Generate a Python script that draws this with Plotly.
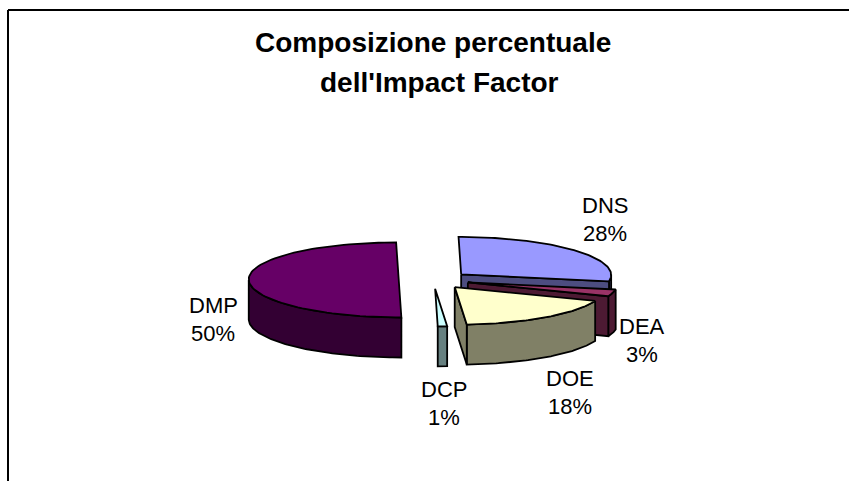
import numpy as np
import plotly.graph_objects as go

# Data, clockwise from 12 o'clock
categories = ["DNS", "DEA", "DOE", "DCP", "DMP"]
percent = [28, 3, 18, 1, 50]
top_colors = ["#9999FF", "#993366", "#FFFFCC", "#CCFFFF", "#660066"]
side_colors = ["#4D4D80", "#4D1A33", "#808066", "#668080", "#330033"]
title_lines = ["Composizione percentuale", "dell'Impact Factor"]

# Projection of the 3-D exploded pie
CX, CY, RX, RY, DEPTH = 434, 280, 150, 37.5, 40
PULL, SHEAR = 0.235, 0.07
LINE = dict(color="black", width=1.8)

label_xy = {"DNS": (605, 205), "DEA": (642, 326), "DOE": (570, 378),
            "DCP": (444, 389), "DMP": (213, 305)}
LABEL_GAP = 28


def project(theta, r, ox, oy, drop=0.0):
    dx = r * RX * np.sin(theta)
    dy = -r * RY * np.cos(theta)
    return ox + dx + SHEAR * dy, oy + dy + drop


def poly(fig, xs, ys, fill):
    fig.add_trace(go.Scatter(x=list(xs) + [xs[0]], y=list(ys) + [ys[0]], mode="lines",
                             fill="toself", fillcolor=fill, line=LINE,
                             hoverinfo="skip", showlegend=False))


fig = go.Figure()
edges = np.cumsum([0] + percent) / sum(percent) * 2 * np.pi

for i, name in enumerate(categories):
    a, b = edges[i], edges[i + 1]
    mid = (a + b) / 2
    ox = CX + PULL * RX * np.sin(mid)
    oy = CY - PULL * RY * np.cos(mid)
    arc = np.linspace(a, b, 80)

    # outer rim, front-facing part only
    lo, hi = max(a, np.pi / 2), min(b, 3 * np.pi / 2)
    if hi > lo:
        t = np.linspace(lo, hi, 80)
        x1, y1 = project(t, 1, ox, oy)
        x2, y2 = project(t[::-1], 1, ox, oy, DEPTH)
        poly(fig, np.r_[x1, x2], np.r_[y1, y2], side_colors[i])

    # radial cut faces that look towards the viewer
    for ang, visible in ((b, np.sin(b) > 1e-6), (a, np.sin(a) < -1e-6)):
        if visible:
            ex, ey = project(ang, 1, ox, oy)
            poly(fig, [ox, ex, ex, ox], [oy, ey, ey + DEPTH, oy + DEPTH], side_colors[i])

    # top face
    x, y = project(arc, 1, ox, oy)
    poly(fig, np.r_[ox, x], np.r_[oy, y], top_colors[i])

annotations = []
for name, pct in zip(categories, percent):
    lx, ly = label_xy[name]
    for text, yy in ((name, ly), (f"{pct}%", ly + LABEL_GAP)):
        annotations.append(dict(x=lx, y=yy, text=text, showarrow=False, xref="x", yref="y",
                                font=dict(family="Liberation Sans", size=22, color="black")))
for text, tx, ty in zip(title_lines, (433, 439), (42, 82)):
    annotations.append(dict(x=tx, y=ty, text=f"<b>{text}</b>", showarrow=False, xref="x", yref="y",
                            font=dict(family="Liberation Sans", size=28, color="black")))

frame = dict(color="black", width=2)
fig.update_layout(
    width=849, height=481, margin=dict(l=0, r=0, t=0, b=0),
    paper_bgcolor="white", plot_bgcolor="white", showlegend=False,
    xaxis=dict(range=[0, 849], visible=False, fixedrange=True),
    yaxis=dict(range=[481, 0], visible=False, fixedrange=True),
    annotations=annotations,
    shapes=[
        dict(type="line", x0=8, x1=8, y0=10, y1=481, xref="x", yref="y", line=frame),
        dict(type="line", x0=8, x1=849, y0=10, y1=10, xref="x", yref="y", line=frame),
    ],
)
fig.write_html("out.html", config=dict(displayModeBar=False),
               post_script="document.body.style.margin='0';document.body.style.overflow='hidden';")
